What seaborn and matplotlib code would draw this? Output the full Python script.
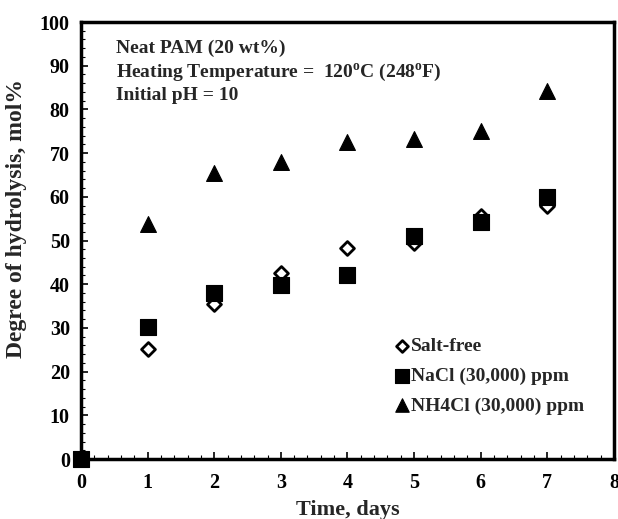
import matplotlib
matplotlib.use("Agg")
import matplotlib.pyplot as plt
import seaborn as sns
import pandas as pd
from matplotlib.ticker import MultipleLocator

days = [0, 1, 2, 3, 4, 5, 6, 7]
salt_free = [0, 25.2, 35.5, 42.6, 48.3, 49.4, 55.6, 57.9]
nacl = [0, 30.2, 38.0, 39.8, 42.1, 51.0, 54.2, 60.0]
nh4cl_days = [1, 2, 3, 4, 5, 6, 7]
nh4cl = [53.8, 65.4, 68.0, 72.5, 73.2, 75.0, 84.2]

sns.set_theme(style="white")
plt.rcParams['font.family'] = ['Liberation Serif', 'DejaVu Serif']
plt.rcParams['font.weight'] = 'bold'
plt.rcParams['mathtext.fontset'] = 'custom'
plt.rcParams['mathtext.rm'] = 'Liberation Serif:bold'
plt.rcParams['mathtext.it'] = 'Liberation Serif:bold'
plt.rcParams['mathtext.bf'] = 'Liberation Serif:bold'

fig = plt.figure(figsize=(6.18, 5.19), dpi=100)
ax = fig.add_axes([0.131, 0.1156, 0.8625, 0.842])

df_sf = pd.DataFrame({"x": days, "y": salt_free})
df_na = pd.DataFrame({"x": days, "y": nacl})
df_nh = pd.DataFrame({"x": nh4cl_days, "y": nh4cl})

sns.scatterplot(data=df_nh, x="x", y="y", ax=ax, marker="^", s=130, color="black",
                edgecolor="black", linewidth=0.8, label="NH4Cl (30,000) ppm", zorder=3, clip_on=False)
sns.scatterplot(data=df_sf, x="x", y="y", ax=ax, marker="D", s=50, facecolor="white",
                edgecolor="black", linewidth=2.0, label="Salt-free", zorder=3, clip_on=False)
sns.scatterplot(data=df_na, x="x", y="y", ax=ax, marker="s", s=130, color="black",
                edgecolor="black", linewidth=0.8, label="NaCl (30,000) ppm", zorder=5, clip_on=False)

ax.set_xlim(0, 8)
ax.set_ylim(0, 100)
ax.xaxis.set_major_locator(MultipleLocator(1))
ax.xaxis.set_minor_locator(MultipleLocator(0.2))
ax.yaxis.set_major_locator(MultipleLocator(10))
ax.yaxis.set_minor_locator(MultipleLocator(2))
ax.tick_params(which="both", direction="in", colors="black", labelsize=14.5)
ax.tick_params(which="major", length=5, width=1.2)
ax.tick_params(axis="x", which="major", pad=10)
ax.tick_params(axis="y", which="major", pad=8)
ax.tick_params(which="minor", length=3, width=0.8, left=True, bottom=True)
ax.tick_params(which="major", left=True, bottom=True)
for lab in ax.get_xticklabels() + ax.get_yticklabels():
    lab.set_fontweight("bold")
for side, sp in ax.spines.items():
    sp.set_color("black")
    sp.set_linewidth(2.5)
    sp.set_zorder(4)

ax.set_xlabel("Time, days", fontsize=16, fontweight="bold", labelpad=5)
ax.set_ylabel("Degree of hydrolysis, mol%", fontsize=17, fontweight="bold")
ax.yaxis.set_label_coords(-0.102, 0.55)

ax.text(0.065, 0.96, "Neat PAM (20 wt%)\nHeating Temperature =  120$^{\\mathrm{o}}$C (248$^{\\mathrm{o}}$F)\nInitial pH = 10",
        transform=ax.transAxes, fontsize=14, fontweight="bold", va="top", ha="left",
        linespacing=1.32)

handles, labels = ax.get_legend_handles_labels()
order = [labels.index("Salt-free"), labels.index("NaCl (30,000) ppm"), labels.index("NH4Cl (30,000) ppm")]
leg = ax.legend([handles[i] for i in order], [labels[i] for i in order],
                loc="lower right", bbox_to_anchor=(0.965, 0.075), frameon=False,
                prop={"family": "Liberation Serif", "weight": "bold", "size": 14},
                handletextpad=-0.55, labelspacing=0.62, borderaxespad=0.2, markerscale=0.85)

fig.savefig("out.png", dpi=100)
